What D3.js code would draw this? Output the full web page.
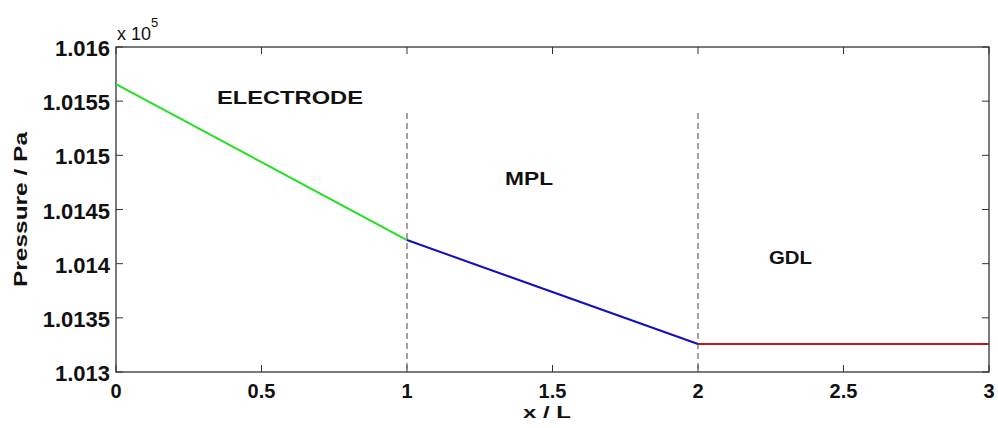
<!DOCTYPE html>
<html><head><meta charset="utf-8">
<script src="https://cdn.jsdelivr.net/npm/d3@7"></script>
<style>body{margin:0;background:#fff}svg{display:block}</style>
</head><body>
<script>
// Data (pressure in units of 1e5 Pa)
const electrodeX = [0, 1];
const electrodeP = [1.015658, 1.014218];
const mplX = [1, 2];
const mplP = [1.014218, 1.013258];
const gdlX = [2, 3];
const gdlP = [1.013258, 1.013258];
const boundaryX = [1, 2];
const boundaryTop = 1.01539;
const xTicks = [0, 0.5, 1, 1.5, 2, 2.5, 3];
const xTickLabels = ["0", "0.5", "1", "1.5", "2", "2.5", "3"];
const yTicks = [1.013, 1.0135, 1.014, 1.0145, 1.015, 1.0155, 1.016];
const yTickLabels = ["1.013", "1.0135", "1.014", "1.0145", "1.015", "1.0155", "1.016"];
const regionLabels = ["ELECTRODE", "MPL", "GDL"];
const regionLabelX = [0.347, 1.337, 2.244];
const regionLabelP = [1.015474, 1.01473, 1.013997];

const W = 998, H = 428;
const m = {left: 116, right: 9, top: 47, bottom: 56};
const svg = d3.select("body").append("svg").attr("width", W).attr("height", H);
const x = d3.scaleLinear().domain([0, 3]).range([m.left, W - m.right]);
const y = d3.scaleLinear().domain([1.013, 1.016]).range([H - m.bottom, m.top]);
const font = "Liberation Sans, Arial, sans-serif";

// frame
svg.append("rect").attr("x", x(0)).attr("y", y(1.016))
  .attr("width", x(3) - x(0)).attr("height", y(1.013) - y(1.016))
  .attr("fill", "none").attr("stroke", "#222").attr("stroke-width", 1.2);

// ticks (inward, mirrored)
const tl = 7;
const tg = svg.append("g").attr("stroke", "#333").attr("stroke-width", 1);
xTicks.forEach(t => {
  tg.append("line").attr("x1", x(t)).attr("x2", x(t)).attr("y1", y(1.013)).attr("y2", y(1.013) - tl);
  tg.append("line").attr("x1", x(t)).attr("x2", x(t)).attr("y1", y(1.016)).attr("y2", y(1.016) + tl);
});
yTicks.forEach(t => {
  tg.append("line").attr("x1", x(0)).attr("x2", x(0) + tl).attr("y1", y(t)).attr("y2", y(t));
  tg.append("line").attr("x1", x(3)).attr("x2", x(3) - tl).attr("y1", y(t)).attr("y2", y(t));
});

// tick labels
svg.append("g").selectAll("text").data(xTicks).join("text")
  .attr("x", d => x(d)).attr("y", y(1.013) + 26)
  .attr("text-anchor", "middle").attr("font-family", font).attr("font-weight", "bold")
  .attr("font-size", 20).attr("fill", "#111")
  .text((d, i) => xTickLabels[i]);
svg.append("g").selectAll("text").data(yTicks).join("text")
  .attr("x", x(0) - 6).attr("y", d => y(d) + 9)
  .attr("text-anchor", "end").attr("font-family", font).attr("font-weight", "bold")
  .attr("font-size", 22).attr("fill", "#111")
  .text((d, i) => yTickLabels[i]);

// exponent
const ex = svg.append("text").attr("x", x(0) + 1).attr("y", 40)
  .attr("font-family", font).attr("font-size", 18).attr("fill", "#111");
ex.append("tspan").text("x 10");
ex.append("tspan").attr("dy", -13).attr("font-size", 13).text("5");

// boundaries
svg.append("g").selectAll("line").data(boundaryX).join("line")
  .attr("x1", d => x(d)).attr("x2", d => x(d))
  .attr("y1", y(boundaryTop)).attr("y2", y(1.013))
  .attr("stroke", "#666").attr("stroke-width", 1.2).attr("stroke-dasharray", "6,4");

// lines
const line = d3.line().x(d => x(d[0])).y(d => y(d[1]));
const series = [
  {xs: electrodeX, ps: electrodeP, c: "#22e022"},
  {xs: mplX, ps: mplP, c: "#1010c0"},
  {xs: gdlX, ps: gdlP, c: "#c01818"}
];
series.forEach(s => {
  svg.append("path").datum(s.xs.map((v, i) => [v, s.ps[i]]))
    .attr("d", line).attr("fill", "none").attr("stroke", s.c).attr("stroke-width", 2);
});

// region labels
const regionWidths = [146, 48, 43];
regionLabels.forEach((t, i) => {
  svg.append("text").attr("x", x(regionLabelX[i])).attr("y", y(regionLabelP[i]))
    .attr("font-family", font).attr("font-weight", "bold").attr("font-size", 18)
    .attr("textLength", regionWidths[i]).attr("lengthAdjust", "spacingAndGlyphs")
    .attr("fill", "#111").text(t);
});

// axis labels
svg.append("text").attr("x", 523).attr("y", 418)
  .attr("font-family", font).attr("font-weight", "bold").attr("font-size", 17)
  .attr("textLength", 48).attr("lengthAdjust", "spacingAndGlyphs")
  .attr("fill", "#111").text("x / L");
svg.append("text").attr("transform", `translate(27,${(y(1.013) + y(1.016)) / 2}) rotate(-90)`)
  .attr("text-anchor", "middle")
  .attr("font-family", font).attr("font-weight", "bold").attr("font-size", 18)
  .attr("textLength", 155).attr("lengthAdjust", "spacingAndGlyphs")
  .attr("fill", "#111").text("Pressure / Pa");
</script>
</body></html>
